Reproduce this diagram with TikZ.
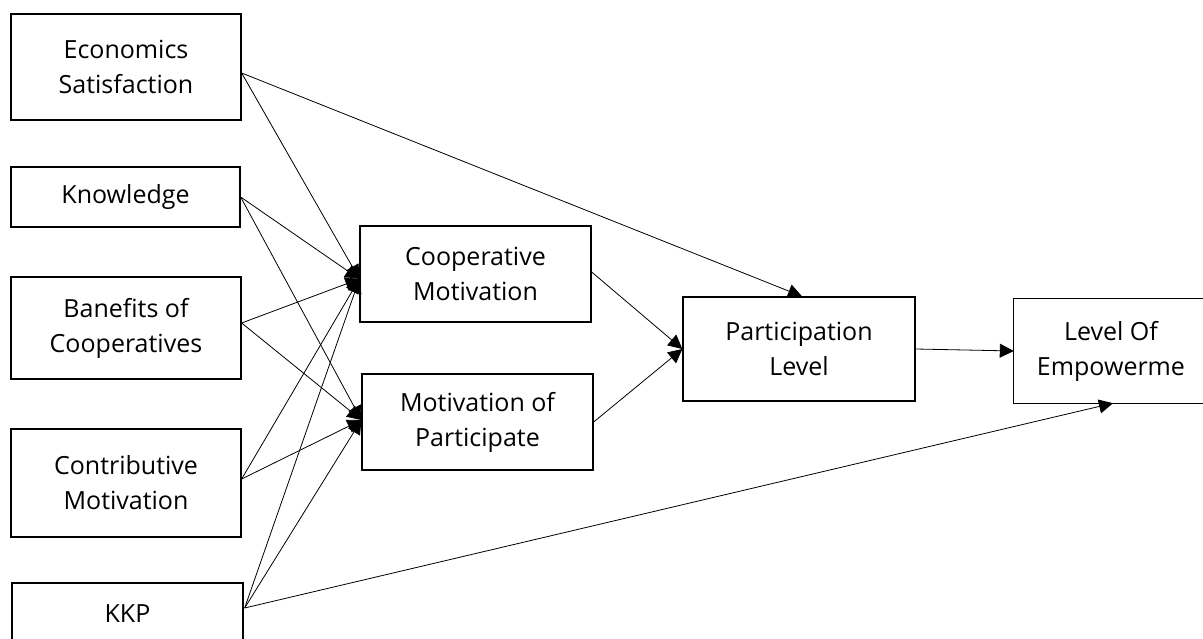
\documentclass[tikz,border=0pt]{standalone}
\usepackage{fontspec}
\setmainfont{Open Sans}
\usetikzlibrary{arrows.meta}
\begin{document}
\begin{tikzpicture}[x=1pt,y=-1pt,
  boxline/.style={line width=1.3pt},
  label text/.style={align=center, inner sep=0pt, font=\fontsize{25}{35}\selectfont},
  box/.style={draw, boxline, rectangle, label text},
  link/.style={line width=0.8pt, -{Triangle[length=14pt,width=14pt]}}]
\useasboundingbox (0,0) rectangle (1203,639);
\begin{scope}
\clip (0,0) rectangle (1203,639);
% exogenous variables
\node[box, minimum width=230pt, minimum height=106pt] (es)  at (126,67)    {Economics\\Satisfaction};
\node[box, minimum width=229pt, minimum height=60pt]  (kn)  at (125.5,197) {Knowledge};
\node[box, minimum width=230pt, minimum height=102pt] (bc)  at (126,328)   {Banefits of\\Cooperatives};
\node[box, minimum width=230pt, minimum height=108pt] (cv)  at (126,483)   {Contributive\\Motivation};
\node[box, minimum width=231pt, minimum height=62pt]  (kkp) at (127.5,614) {KKP};
% mediators
\node[box, minimum width=231pt, minimum height=96pt]  (cm)  at (475.5,274) {Cooperative\\Motivation};
\node[box, minimum width=231pt, minimum height=96pt]  (mp)  at (477.5,422) {Motivation of\\Participate};
% outcomes
\node[box, minimum width=232pt, minimum height=104pt] (pl)  at (799,349)   {Participation\\Level};
\node[label text, minimum width=194pt, minimum height=104pt] (lev) at (1111,351) {Level Of\\Empowerme};
% the last box runs past the right margin
\draw[boxline] (lev.west) |- ([xshift=150pt]lev.north east);
\draw[boxline] (lev.west) |- ([xshift=150pt]lev.south east);
% attachment points
\coordinate (esO)  at ([yshift=-6pt]es.east);
\coordinate (knO)  at (kn.east);
\coordinate (bcO)  at ([yshift=5pt]bc.east);
\coordinate (cvO)  at ([yshift=4pt]cv.east);
\coordinate (kkpO) at ([yshift=6pt,xshift=1pt]kkp.east);
\coordinate (cmI)  at ([yshift=-5pt]cm.west);
\coordinate (mpI)  at ([yshift=2pt]mp.west);
\coordinate (plT)  at ([xshift=3pt]pl.north);
\coordinate (levB) at ([xshift=2pt]lev.south);
% paths
\draw[link] (esO) -- (cmI);
\draw[link] (esO) -- (plT);
\draw[link] (knO) -- (cmI);
\draw[link] (knO) -- (mpI);
\draw[link] (bcO) -- (cmI);
\draw[link] (bcO) -- (mpI);
\draw[link] (cvO) -- (cmI);
\draw[link] (cvO) -- (mpI);
\draw[link] (kkpO) -- (cmI);
\draw[link] (kkpO) -- (mpI);
\draw[link] (kkpO) -- (levB);
\draw[link] ([yshift=2pt]cm.east) -- (pl.west);
\draw[link] (mp.east) -- (pl.west);
\draw[link] (pl.east) -- (lev.west);
\end{scope}
\end{tikzpicture}
\end{document}
